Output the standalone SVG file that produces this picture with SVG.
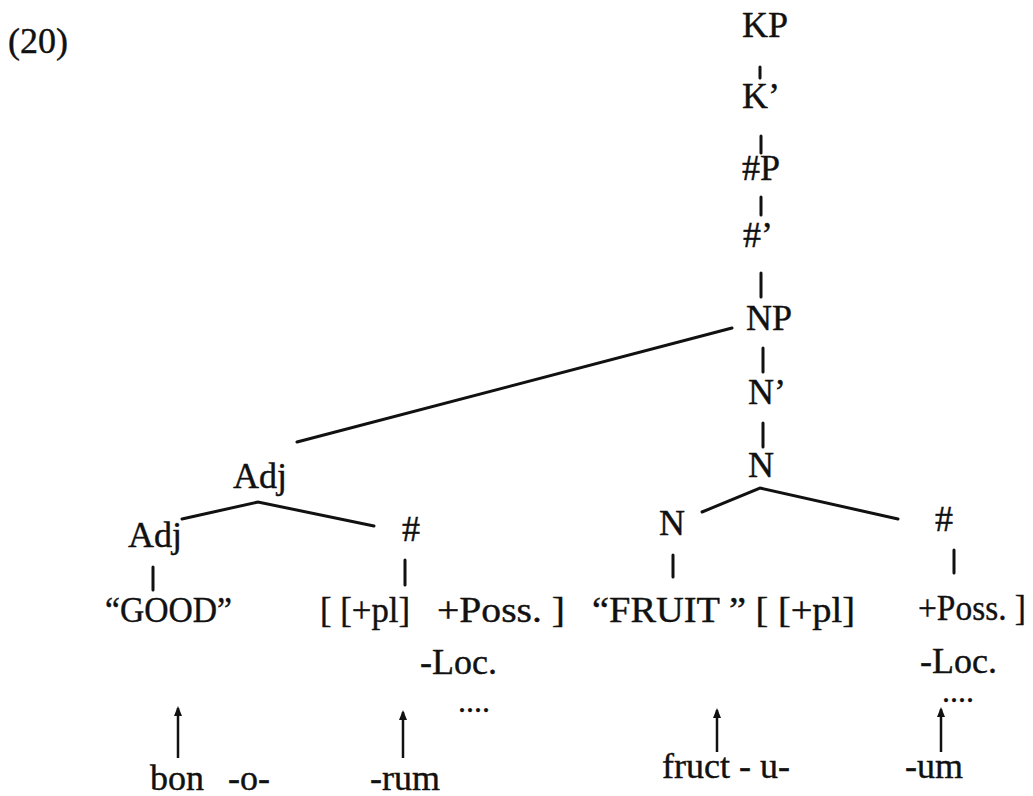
<svg xmlns="http://www.w3.org/2000/svg" width="1033" height="796" viewBox="0 0 1033 796">
<style>
text{font-family:"Liberation Serif","Times New Roman",serif;font-size:36px;fill:#111;stroke:#111;stroke-width:0.4}
.dots{font-size:32px}
.e{stroke:#111;stroke-width:3;fill:none;stroke-linecap:round}
.a{stroke:#111;stroke-width:2.5;fill:none;marker-end:url(#ah)}
</style>
<defs>
<marker id="ah" viewBox="0 0 10 10" refX="8" refY="5" markerWidth="4" markerHeight="4" orient="auto" markerUnits="strokeWidth">
<path d="M0,1 L10,5 L0,9 Z" fill="#111"/>
</marker>
</defs>
<rect width="1033" height="796" fill="#fff"/>
<text x="8" y="53">(20)</text>
<g id="KP"><text x="742" y="37">KP</text></g>
<g id="Kbar"><text x="742" y="108">K’</text></g>
<g id="NumP"><text x="742" y="180">#P</text></g>
<g id="Numbar"><text x="743" y="247">#’</text></g>
<g id="NP"><text x="746" y="330">NP</text></g>
<g id="Nbar"><text x="748" y="404">N’</text></g>
<g id="N_top"><text x="748" y="477">N</text></g>
<g id="Adj_top"><text x="233" y="488">Adj</text></g>
<g id="Adj_low"><text x="128" y="547">Adj</text></g>
<g id="Num_left"><text x="402" y="541">#</text></g>
<g id="N_low"><text x="659" y="535">N</text></g>
<g id="Num_right"><text x="935" y="531">#</text></g>
<g id="good"><text x="105" y="622" textLength="127" lengthAdjust="spacingAndGlyphs">“GOOD”</text></g>
<g id="pl_left"><text x="320" y="622" textLength="90" lengthAdjust="spacingAndGlyphs">[ [+pl]</text></g>
<g id="poss_left"><text x="437" y="622" textLength="128" lengthAdjust="spacingAndGlyphs">+Poss.  ]</text></g>
<g id="loc_left"><text x="420" y="674">-Loc.</text></g>
<g id="dots_left"><text class="dots" x="458" y="712">....</text></g>
<g id="fruit"><text x="592" y="622" textLength="263" lengthAdjust="spacingAndGlyphs">“FRUIT ” [ [+pl]</text></g>
<g id="poss_right"><text x="918" y="620" textLength="108" lengthAdjust="spacingAndGlyphs">+Poss. ]</text></g>
<g id="loc_right"><text x="920" y="673">-Loc.</text></g>
<g id="dots_right"><text class="dots" x="942" y="702">....</text></g>
<g id="bon"><text x="150" y="790">bon <tspan dx="15">-o-</tspan></text></g>
<g id="rum"><text x="370" y="790">-rum</text></g>
<g id="fruct"><text x="662" y="778">fruct - u-</text></g>
<g id="um"><text x="905" y="778">-um</text></g>
<g id="connectors">
<line class="e" x1="760" y1="67" x2="760" y2="78"/>
<line class="e" x1="761" y1="136" x2="761" y2="153"/>
<line class="e" x1="761" y1="197" x2="761" y2="215"/>
<line class="e" x1="761" y1="273" x2="761" y2="297"/>
<line class="e" x1="732" y1="328" x2="297" y2="442"/>
<line class="e" x1="763" y1="348" x2="763" y2="372"/>
<line class="e" x1="763" y1="423" x2="763" y2="447"/>
<polyline class="e" points="702,512 760,488 898,519"/>
<polyline class="e" points="182,519 258,502 374,526"/>
<line class="e" x1="153" y1="567" x2="153" y2="590"/>
<line class="e" x1="405" y1="560" x2="405" y2="585"/>
<line class="e" x1="673" y1="555" x2="673" y2="577"/>
<line class="e" x1="954" y1="550" x2="954" y2="573"/>
<line class="a" x1="178" y1="758" x2="178" y2="708"/>
<line class="a" x1="403" y1="758" x2="403" y2="712"/>
<line class="a" x1="717" y1="752" x2="717" y2="710"/>
<line class="a" x1="941" y1="752" x2="941" y2="709"/>
</g>
</svg>
